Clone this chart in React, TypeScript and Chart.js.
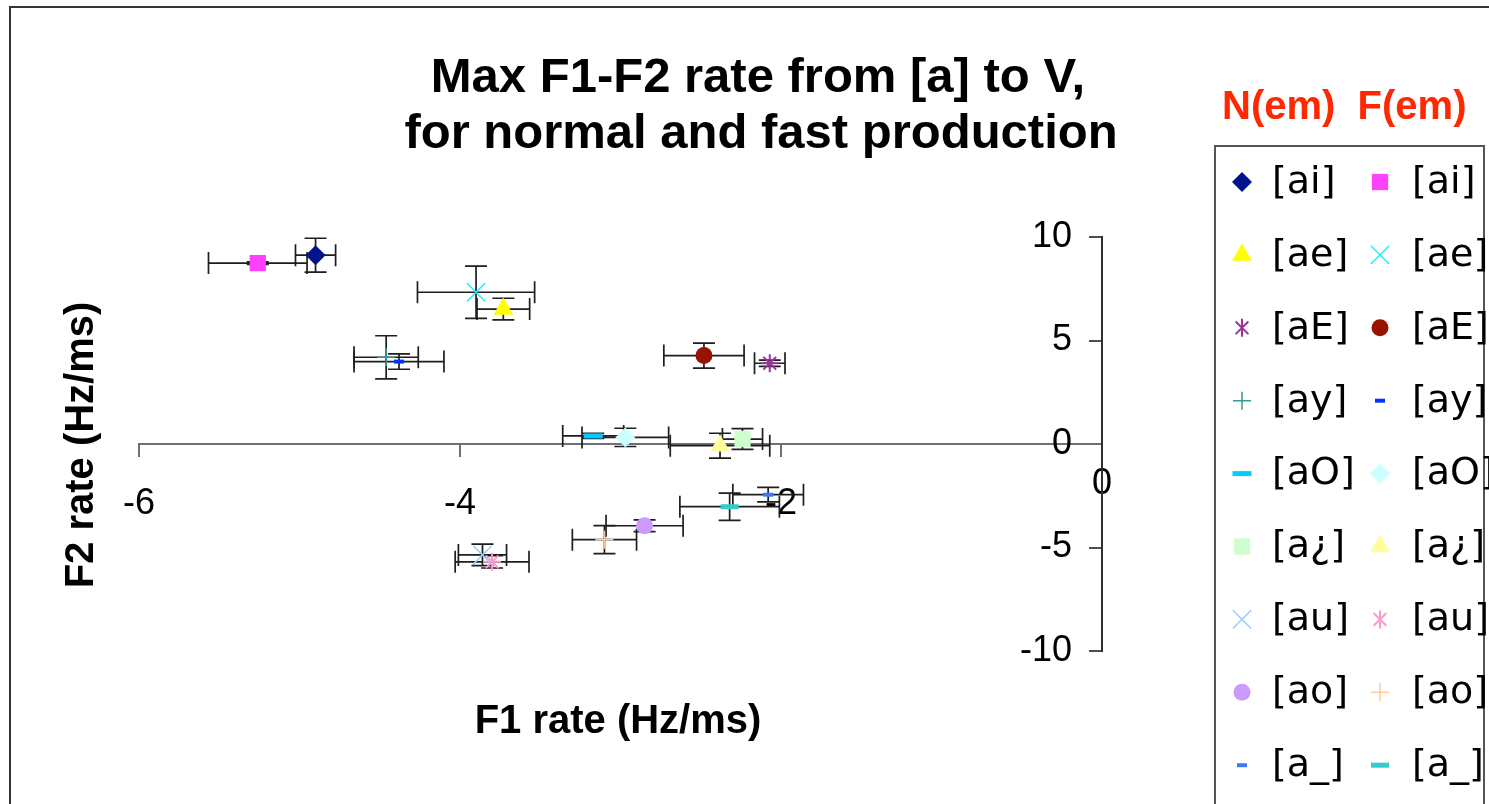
import React, { useEffect, useRef } from 'react';
import { Chart, registerables } from 'chart.js';
import { drawPoint } from 'chart.js/helpers';

Chart.register(...registerables);

// ---------- data ----------
const vowels = ['[ai]', '[ae]', '[aE]', '[ay]', '[aO]', '[a¿]', '[au]', '[ao]', '[a_]'];

// normal production (N)
const normalX = [-4.9, -3.73, -2.07, -4.46, -3.17, -2.24, -3.86, -2.85, -2.08];
const normalY = [9.12, 6.52, 3.9, 4.19, 0.39, 0.24, -5.36, -3.95, -2.45];
const normalXErr = [0.125, 0.164, 0.095, 0.2, 0.19, 0.125, 0.15, 0.24, 0.22];
const normalYErr = [0.82, 0.52, 0.15, 1.04, 0.12, 0.5, 0.52, 0.28, 0.35];

// fast production (F)
const fastX = [-5.26, -3.9, -2.48, -4.38, -2.97, -2.38, -3.8, -3.1, -2.32];
const fastY = [8.74, 7.33, 4.27, 3.98, 0.32, -0.08, -5.69, -4.62, -3.03];
const fastXErr = [0.307, 0.365, 0.25, 0.28, 0.27, 0.31, 0.23, 0.2, 0.31];
const fastYErr = [0.06, 1.26, 0.6, 0.37, 0.44, 0.6, 0.3, 0.68, 0.66];

const xTicks = [-6, -4, -2, 0];
const yTicks = [-10, -5, 0, 5, 10];

const titleLines = ['Max F1-F2 rate from [a] to V,', 'for normal and fast production'];
const xTitle = 'F1 rate (Hz/ms)';
const yTitle = 'F2 rate (Hz/ms)';
const legendHeader = 'N(em)  F(em)';

// ---------- styles ----------
type MStyle = { style: string; color: string; r: number; bw: number };
const normalStyles: MStyle[] = [
  { style: 'rectRot', color: '#00148C', r: 10, bw: 0 },
  { style: 'triangle', color: '#FFFF00', r: 11.5, bw: 0 },
  { style: 'star', color: '#993399', r: 9, bw: 2 },
  { style: 'cross', color: '#339999', r: 9, bw: 1.5 },
  { style: 'line', color: '#00CCFF', r: 9.5, bw: 5 },
  { style: 'rect', color: '#CCFFCC', r: 11.5, bw: 0 },
  { style: 'crossRot', color: '#99CCFF', r: 13, bw: 1.5 },
  { style: 'circle', color: '#CC99FF', r: 8.5, bw: 0 },
  { style: 'line', color: '#3D77FF', r: 5, bw: 4 },
];
const fastStyles: MStyle[] = [
  { style: 'rect', color: '#FF40FF', r: 11.5, bw: 0 },
  { style: 'crossRot', color: '#22EEFF', r: 13, bw: 1.5 },
  { style: 'circle', color: '#991100', r: 8.5, bw: 0 },
  { style: 'line', color: '#0033FF', r: 5, bw: 4 },
  { style: 'rectRot', color: '#CCFFFF', r: 10, bw: 0 },
  { style: 'triangle', color: '#FFFF99', r: 11.5, bw: 0 },
  { style: 'star', color: '#FF99CC', r: 9, bw: 2 },
  { style: 'cross', color: '#FFCC99', r: 9, bw: 1.5 },
  { style: 'line', color: '#33CCCC', r: 9, bw: 5 },
];

const SANS = '"Liberation Sans", Arial, sans-serif';
const LEGEND_FONT = '"DejaVu Sans", Verdana, sans-serif';

function drawMarker(ctx: CanvasRenderingContext2D, s: MStyle, x: number, y: number) {
  ctx.save();
  ctx.fillStyle = s.color;
  ctx.strokeStyle = s.color;
  ctx.lineWidth = s.bw || 1;
  if (s.style === 'star') {
    const d = s.r * Math.SQRT1_2;
    ctx.beginPath();
    ctx.moveTo(x, y - s.r);
    ctx.lineTo(x, y + s.r);
    ctx.moveTo(x - d, y - d);
    ctx.lineTo(x + d, y + d);
    ctx.moveTo(x - d, y + d);
    ctx.lineTo(x + d, y - d);
    ctx.stroke();
  } else {
    drawPoint(ctx, { pointStyle: s.style, radius: s.r, borderWidth: s.bw, rotation: 0 } as any, x, y);
  }
  ctx.restore();
}

const errorBarPlugin = {
  id: 'errorBars',
  beforeDatasetsDraw(chart: any) {
    const ctx = chart.ctx as CanvasRenderingContext2D;
    const xs = chart.scales.x;
    const ys = chart.scales.y;
    const cap = 11;
    ctx.save();
    ctx.strokeStyle = '#1e1e1e';
    ctx.lineWidth = 1.7;
    chart.data.datasets.forEach((ds: any) => {
      ds.data.forEach((p: any, i: number) => {
        const cx = xs.getPixelForValue(p.x);
        const cy = ys.getPixelForValue(p.y);
        const x1 = xs.getPixelForValue(p.x - ds.xErr[i]);
        const x2 = xs.getPixelForValue(p.x + ds.xErr[i]);
        const y1 = ys.getPixelForValue(p.y - ds.yErr[i]);
        const y2 = ys.getPixelForValue(p.y + ds.yErr[i]);
        ctx.beginPath();
        ctx.moveTo(x1, cy); ctx.lineTo(x2, cy);
        ctx.moveTo(x1, cy - cap); ctx.lineTo(x1, cy + cap);
        ctx.moveTo(x2, cy - cap); ctx.lineTo(x2, cy + cap);
        ctx.moveTo(cx, y1); ctx.lineTo(cx, y2);
        ctx.moveTo(cx - cap, y1); ctx.lineTo(cx + cap, y1);
        ctx.moveTo(cx - cap, y2); ctx.lineTo(cx + cap, y2);
        ctx.stroke();
      });
    });
    ctx.restore();
  },
};

const decorPlugin = {
  id: 'decor',
  afterDraw(chart: any) {
    const ctx = chart.ctx as CanvasRenderingContext2D;
    ctx.save();
    // outer frame (cropped at right/bottom)
    ctx.strokeStyle = '#333';
    ctx.lineWidth = 2;
    ctx.beginPath();
    ctx.moveTo(10, 900);
    ctx.lineTo(10, 7);
    ctx.lineTo(1600, 7);
    ctx.stroke();

    // title
    ctx.fillStyle = '#000';
    ctx.textAlign = 'center';
    ctx.textBaseline = 'middle';
    ctx.font = `bold 49px ${SANS}`;
    ctx.fillText(titleLines[0], 758, 78);
    ctx.fillText(titleLines[1], 761, 134);

    // axis titles
    ctx.font = `bold 40px ${SANS}`;
    ctx.fillText(xTitle, 618, 722);
    ctx.save();
    ctx.translate(82, 445);
    ctx.rotate(-Math.PI / 2);
    ctx.fillText(yTitle, 0, 0);
    ctx.restore();

    // legend header
    ctx.fillStyle = '#FF2800';
    ctx.textAlign = 'left';
    ctx.fillText(legendHeader, 1222, 108);

    // legend box
    ctx.strokeStyle = '#555';
    ctx.lineWidth = 2;
    ctx.beginPath();
    ctx.moveTo(1215, 900);
    ctx.lineTo(1215, 146);
    ctx.lineTo(1484, 146);
    ctx.lineTo(1484, 900);
    ctx.stroke();

    ctx.font = `38px ${LEGEND_FONT}`;
    ctx.fillStyle = '#000';
    ctx.textBaseline = 'middle';
    vowels.forEach((v, i) => {
      const y = 182 + i * 72.9;
      drawMarker(ctx, normalStyles[i], 1242, y);
      drawMarker(ctx, fastStyles[i], 1380, y);
      ctx.fillStyle = '#000';
      ctx.fillText(v, 1272, y + 1);
      ctx.fillText(v, 1412, y + 1);
    });
    ctx.restore();
  },
};

export default function App() {
  const ref = useRef<HTMLCanvasElement | null>(null);
  useEffect(() => {
    if (!ref.current) return;
    const datasets: any[] = [];
    vowels.forEach((v, i) => {
      const groups = [
        { label: `N ${v}`, xs: normalX, ys: normalY, xe: normalXErr, ye: normalYErr, st: normalStyles[i] },
        { label: `F ${v}`, xs: fastX, ys: fastY, xe: fastXErr, ye: fastYErr, st: fastStyles[i] },
      ];
      groups.forEach((g) => {
        datasets.push({
          label: g.label,
          data: [{ x: g.xs[i], y: g.ys[i] }],
          xErr: [g.xe[i]],
          yErr: [g.ye[i]],
          pointStyle: g.st.style,
          pointRadius: g.st.r,
          pointHoverRadius: g.st.r,
          pointBorderWidth: g.st.bw,
          pointBackgroundColor: g.st.color,
          pointBorderColor: g.st.color,
          showLine: false,
        });
      });
    });
    const chart = new Chart(ref.current, {
      type: 'scatter',
      data: { datasets },
      options: {
        animation: false,
        responsive: false,
        devicePixelRatio: 1,
        layout: { padding: { left: 139, right: 387, top: 237, bottom: 153 } },
        plugins: { legend: { display: false }, tooltip: { enabled: false }, title: { display: false } },
        scales: {
          x: {
            type: 'linear',
            min: -6,
            max: 0,
            position: { y: 0 } as any,
            afterBuildTicks: (s: any) => { s.ticks = xTicks.map((v) => ({ value: v })); },
            ticks: {
              color: '#000',
              font: (c: any) => ({ family: SANS, size: 36, lineHeight: c.tick && c.tick.value === 0 ? 0.1 : 1.2 }),
              padding: 26,
              maxRotation: 0,
              autoSkip: false,
            },
            grid: { drawOnChartArea: false, drawTicks: true, tickLength: 12, color: '#707070', lineWidth: 2 },
            border: { color: '#707070', width: 2 },
          },
          y: {
            type: 'linear',
            min: -10,
            max: 10,
            position: { x: 0 } as any,
            afterBuildTicks: (s: any) => { s.ticks = yTicks.map((v) => ({ value: v })); },
            ticks: {
              color: '#000',
              font: { family: SANS, size: 36 },
              padding: 20,
              autoSkip: false,
              callback: (v: any) => `${v}\u2007 `,
            },
            grid: { drawOnChartArea: false, drawTicks: true, tickLength: 12, color: '#505050', lineWidth: 2 },
            border: { color: '#303030', width: 2 },
          },
        },
      } as any,
      plugins: [errorBarPlugin, decorPlugin],
    });
    return () => chart.destroy();
  }, []);
  return (
    <div style={{ position: 'fixed', left: 0, top: 0, width: 1489, height: 804, overflow: 'hidden', background: '#fff' }}>
      <canvas ref={ref} width={1489} height={804} style={{ display: 'block', width: 1489, height: 804 }} />
    </div>
  );
}
